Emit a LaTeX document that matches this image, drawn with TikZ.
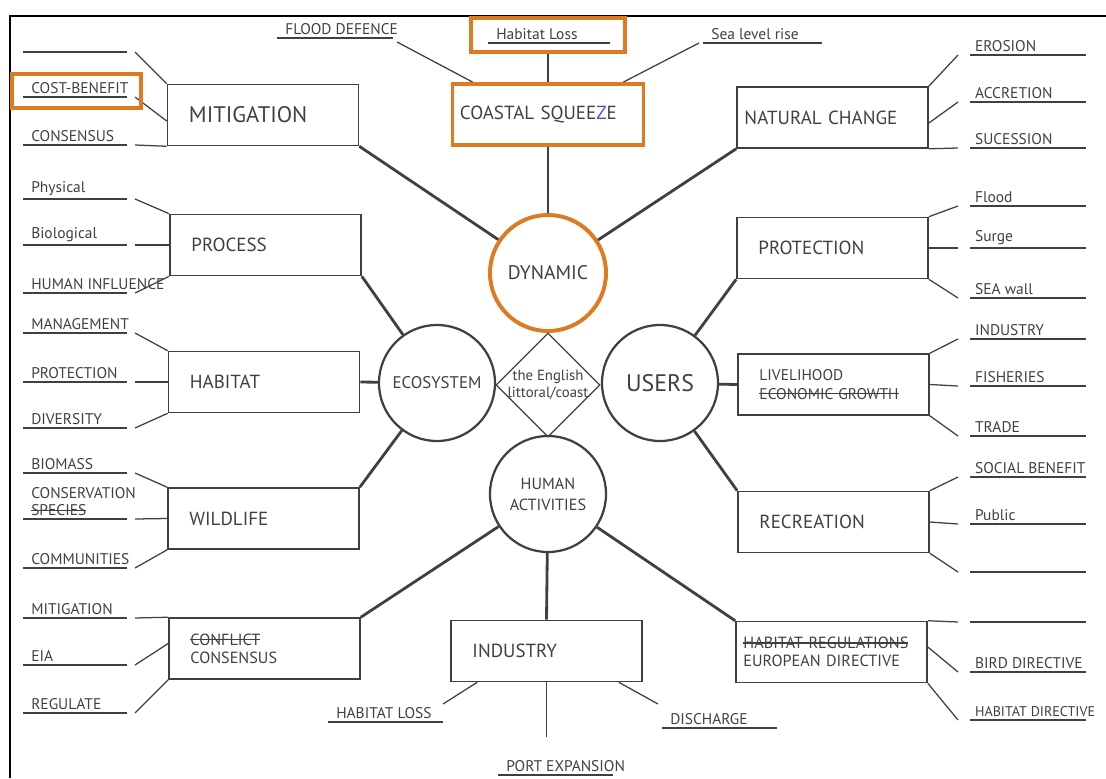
\documentclass[tikz,border=0pt]{standalone}
\usepackage{fontspec}
\setmainfont{PT Sans}
\usetikzlibrary{shapes.geometric}

\definecolor{ink}{RGB}{64,64,64}
\definecolor{hl}{RGB}{222,122,32}
\definecolor{zblue}{RGB}{70,80,200}

\newsavebox{\strkbox}
\newcommand{\strk}[1]{\leavevmode\sbox{\strkbox}{#1}\rlap{\rule[0.3em]{\wd\strkbox}{1.1pt}}\usebox{\strkbox}}

\tikzset{
  hub/.style={circle,draw=ink,line width=1.6pt,minimum size=2.9cm,inner sep=0pt,align=center,text=ink,font=\fontsize{13}{15}\selectfont},
  topic/.style={draw=ink,line width=1.1pt,minimum width=4.775cm,minimum height=1.525cm,inner sep=0pt,text width=3.7cm,align=left,text=ink,font=\fontsize{13.5}{15}\selectfont},
  leaf/.style={anchor=south west,inner xsep=0.2cm,inner ysep=2pt,align=left,text=ink,font=\fontsize{11}{12}\selectfont},
  spoke/.style={ink,line width=2pt},
  twig/.style={ink,line width=0.9pt},
  hlbox/.style={draw=hl,line width=2.4pt,inner sep=0pt}
}

\begin{document}
\begin{tikzpicture}[x=0.025cm,y=-0.025cm]
\useasboundingbox (0,0) rectangle (1106,778);
\draw[line width=1.4pt] (10,778) -- (10,16) -- (1106,16);

\node[diamond,draw=ink,line width=0.8pt,minimum size=2.6cm,inner sep=-5pt,align=center,text=ink,font=\fontsize{10.5}{12}\selectfont] (core) at (548,385) {the English\\littoral/coast};
\node[hub,draw=hl,line width=2.8pt,font=\fontsize{14}{16}\selectfont] (dyn) at (548,273) {DYNAMIC};
\node[hub,font=\fontsize{12}{14}\selectfont] (eco) at (437,383) {ECOSYSTEM};
\node[hub,font=\fontsize{17}{19}\selectfont] (usr) at (660,383) {USERS};
\node[hub,font=\fontsize{11.5}{15}\selectfont] (hum) at (548,494) {HUMAN\\ACTIVITIES};

\node[topic,font=\fontsize{16}{18}\selectfont] (mit) at (263,115) {MITIGATION};
\node[topic,draw=hl,line width=2.8pt,text width=4.4cm] (csq) at (548,114.5) {COASTAL SQUEE{\color{zblue}Z}E};
\node[topic,text width=4.4cm] (nat) at (832.5,117.5) {NATURAL CHANGE};
\node[topic] (pro) at (265.5,245) {PROCESS};
\node[topic] (prt) at (832.5,248) {PROTECTION};
\node[topic] (hab) at (264,382) {HABITAT};
\node[topic,font=\fontsize{11}{13}\selectfont] (liv) at (833.5,384.5) {LIVELIHOOD\\\strk{ECONOMIC GROWTH}};
\node[topic] (wil) at (263.5,518.5) {WILDLIFE};
\node[topic] (rec) at (833.5,522) {RECREATION};
\node[topic,font=\fontsize{11.5}{13}\selectfont] (con) at (264.5,648.5) {\strk{CONFLICT}\\CONSENSUS};
\node[topic] (ind) at (546.5,651) {INDUSTRY};
\node[topic,text width=4.4cm,font=\fontsize{11.5}{13}\selectfont] (eur) at (831.5,652) {\strk{HABITAT REGULATIONS}\\EUROPEAN DIRECTIVE};

\foreach \a/\b in {mit.south east/dyn,csq.south/dyn,nat.south west/dyn,
                   pro.south east/eco,hab.east/eco,wil.north east/eco,
                   prt.south west/usr,liv.west/usr,rec.north west/usr,
                   con.north east/hum,ind.north/hum,eur.north west/hum}
  \draw[spoke] (\a) -- (\b);

% left side
\foreach \nm/\y/\txt/\bx/\dy in {lb1/52/{}/mit.north west/0cm,
    lcb/97/COST-BENEFIT/mit.west/-0.15cm, lcs/145/CONSENSUS/mit.south west/0cm,
    lph/199/Physical/pro.north west/0cm, lbi/245/Biological/pro.west/0cm,
    lhi/293/HUMAN INFLUENCE/pro.south west/0cm,
    lma/333/MANAGEMENT/hab.north west/0cm, lpr/382/PROTECTION/hab.west/0cm,
    ldi/428/DIVERSITY/hab.south west/0cm,
    lbm/473/BIOMASS/wil.north west/0cm, lco/519/{CONSERVATION\\\strk{SPECIES}}/wil.west/0cm,
    lcm/568/COMMUNITIES/wil.south west/0cm,
    lmi/618/MITIGATION/con.north west/0cm, lei/665/EIA/con.west/0.125cm,
    lre/713/REGULATE/con.south west/0cm}
{
  \node[leaf] (\nm) at (23,\y) {\txt};
  \draw[twig] (\nm.south west) -- ++(2.6cm,0) coordinate (\nm-e);
  \draw[twig] ([yshift=\dy]\bx) -- ([xshift=2mm]\nm-e);
}

% right side
\foreach \nm/\y/\txt/\bx/\dy in {rer/55/EROSION/nat.north east/0cm,
    rac/102/ACCRETION/nat.east/-0.14cm, rsu/148/SUCESSION/nat.south east/0cm,
    rfl/206/Flood/prt.north east/0cm, rsg/248/Surge/prt.east/0cm,
    rsw/298/SEA wall/prt.south east/0cm,
    rin/339/INDUSTRY/liv.north east/0cm, rfi/386/FISHERIES/liv.east/0cm,
    rtr/436/TRADE/liv.south east/0cm,
    rsb/477/SOCIAL BENEFIT/rec.north east/0cm, rpu/524/Public/rec.east/0cm,
    rb2/572/{}/rec.south east/0cm,
    rb3/622/{}/eur.north east/0cm, rbd/672/BIRD DIRECTIVE/eur.east/0.125cm,
    rhd/720/{\fontsize{10}{12}\selectfont HABITAT DIRECTIVE}/eur.south east/0cm}
{
  \node[leaf,inner xsep=0.12cm] (\nm) at (970,\y) {\txt};
  \draw[twig] (\nm.south west) -- ++(2.9cm,0);
  \draw[twig] ([yshift=\dy]\bx) -- ([xshift=-3mm]\nm.south west);
}

% top
\node[leaf] (tfd) at (277,38) {FLOOD DEFENCE};
\draw[twig] (tfd.south west) -- ++(2.9cm,0) coordinate (tfd-e);
\draw[twig] ([xshift=0.55cm]csq.north west) -- ([xshift=1mm,yshift=-1mm]tfd-e);
\node[leaf] (thl) at (488,43) {Habitat Loss};
\draw[twig] (thl.south west) -- ++(3.05cm,0);
\node[hlbox,minimum width=3.85cm,minimum height=0.85cm] (thlbox) at (548,35) {};
\draw[twig] (thlbox.south) -- (csq.north);
\node[leaf] (tsl) at (703,43) {Sea level rise};
\draw[twig] (tsl.south west) -- ++(2.97cm,0);
\draw[twig] ([xshift=-0.55cm]csq.north east) -- ([xshift=-1mm]tsl.south west);
\node[hlbox,minimum width=3.225cm,minimum height=0.85cm] (cbbox) at (76.5,91) {};

% bottom
\node[leaf] (bhl) at (328,722) {HABITAT LOSS};
\draw[twig] (bhl.south west) -- ++(2.875cm,0) coordinate (bhl-e);
\draw[twig] ([xshift=0.675cm]ind.south west) -- ([yshift=0.45cm]bhl-e);
\node[leaf] (bpe) at (498,775) {PORT EXPANSION};
\draw[twig] (bpe.south west) -- ++(2.875cm,0);
\draw[twig] (ind.south) -- ++(0,55) coordinate (pe-top);
\node[leaf] (bdi) at (662,728) {DISCHARGE};
\draw[twig] (bdi.south west) -- ++(2.875cm,0);
\draw[twig] ([xshift=-0.6cm]ind.south east) -- ([xshift=-1mm,yshift=0.6cm]bdi.south west);
\end{tikzpicture}
\end{document}
